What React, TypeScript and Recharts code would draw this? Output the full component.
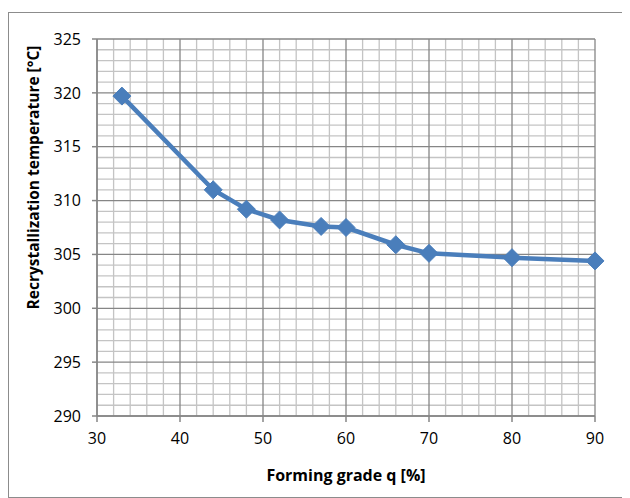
import React from "react";
import {
  LineChart,
  Line,
  XAxis,
  YAxis,
  CartesianGrid,
  Label,
} from "recharts";

const formingGrade = [33, 44, 48, 52, 57, 60, 66, 70, 80, 90];
const recrystTemp = [319.7, 311.0, 309.2, 308.2, 307.6, 307.5, 305.9, 305.1, 304.7, 304.4];

const xTicks = [30, 40, 50, 60, 70, 80, 90];
const yTicks = [290, 295, 300, 305, 310, 315, 320, 325];
const xMinor = [32, 34, 36, 38, 42, 44, 46, 48, 52, 54, 56, 58, 62, 64, 66, 68, 72, 74, 76, 78, 82, 84, 86, 88];
const yMinor = [
  291, 292, 293, 294, 296, 297, 298, 299, 301, 302, 303, 304, 306, 307, 308, 309,
  311, 312, 313, 314, 316, 317, 318, 319, 321, 322, 323, 324,
];

const data = formingGrade.map((q, i) => ({ q, t: recrystTemp[i] }));

const FONT = "'Open Sans', 'Liberation Sans', sans-serif";
const BLUE = "#4A7EBB";

function Diamond(props: any) {
  const { cx, cy } = props;
  if (cx == null || cy == null) return null;
  const r = 9;
  return (
    <polygon
      points={`${cx},${cy - r} ${cx + r},${cy} ${cx},${cy + r} ${cx - r},${cy}`}
      fill={BLUE}
      stroke={BLUE}
    />
  );
}

// y-axis title sits a bit above the plot centre, like the original
function YTitle(props: any) {
  const vb = props.viewBox || {};
  const x = vb.x - 6;
  const y = vb.y + vb.height / 2 - 50;
  return (
    <text
      x={x}
      y={y}
      transform={`rotate(-90, ${x}, ${y})`}
      textAnchor="middle"
      dominantBaseline="central"
      fill="#000"
      fontSize={15.5}
      fontWeight={700}
      fontFamily={FONT}
    >
      Recrystallization temperature [°C]
    </text>
  );
}

export default function App() {
  return (
    <div
      style={{
        width: 618,
        height: 484,
        marginTop: 4,
        border: "1px solid #8c8c8c",
        background: "#fff",
        fontFamily: FONT,
      }}
    >
      <LineChart
        width={618}
        height={484}
        data={data}
        margin={{ top: 26, right: 32, bottom: 20, left: 30 }}
      >
        <CartesianGrid
          stroke="#c4c4c4"
          strokeWidth={1.3}
          verticalValues={xMinor}
          horizontalValues={yMinor}
        />
        <CartesianGrid stroke="#868686" strokeWidth={1.3} />
        <XAxis
          dataKey="q"
          type="number"
          domain={[30, 90]}
          ticks={xTicks}
          interval={0}
          height={61}
          stroke="#868686"
          strokeWidth={1.5}
          tickSize={6}
          tick={{ fill: "#000", fontSize: 16, fontFamily: FONT, dy: 9 }}
        >
          <Label
            value="Forming grade q [%]"
            position="insideBottom"
            offset={-4}
            style={{ fill: "#000", fontSize: 16, fontWeight: 700, fontFamily: FONT }}
          />
        </XAxis>
        <YAxis
          type="number"
          domain={[290, 325]}
          ticks={yTicks}
          interval={0}
          width={58}
          stroke="#868686"
          strokeWidth={1.5}
          tickSize={5}
          tick={{ fill: "#000", fontSize: 16, fontFamily: FONT, dx: -9 }}
        >
          <Label content={<YTitle />} />
        </YAxis>
        <Line
          dataKey="t"
          stroke={BLUE}
          strokeWidth={4.5}
          dot={<Diamond />}
          activeDot={false}
          isAnimationActive={false}
        />
      </LineChart>
    </div>
  );
}
